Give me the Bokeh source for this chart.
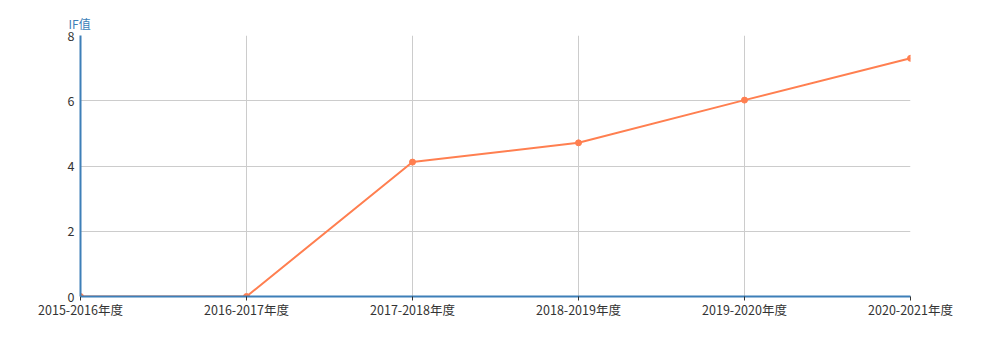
from bokeh.plotting import figure
from bokeh.models import Range1d, FixedTicker, ColumnDataSource
from bokeh.embed import file_html
from bokeh.resources import INLINE

categories = ["2015-2016年度", "2016-2017年度", "2017-2018年度", "2018-2019年度", "2019-2020年度", "2020-2021年度"]
if_values = [0, 0, 4.12, 4.71, 6.02, 7.3]
y_ticks = [0, 2, 4, 6, 8]

FONT = "Noto Sans CJK SC"
AXIS_BLUE = "#3d7fb8"
LINE = "#ff7f50"

xs = list(range(len(categories)))
src = ColumnDataSource(dict(x=xs, y=if_values))

p = figure(width=989, height=354, output_backend="svg", toolbar_location=None,
           x_range=Range1d(0, len(categories) - 1), y_range=Range1d(0, 8))
p.min_border_left = 80
p.min_border_right = 79
p.min_border_top = 35
p.min_border_bottom = 58
p.outline_line_color = None
p.background_fill_color = "white"
p.border_fill_color = "white"

p.title.text = "IF值"
p.title.text_font = FONT
p.title.text_font_size = "12px"
p.title.text_font_style = "normal"
p.title.text_color = AXIS_BLUE
p.title.align = "left"
p.title.offset = -12
p.title.standoff = 8

p.line("x", "y", source=src, line_color=LINE, line_width=2)
p.scatter("x", "y", source=src, size=6, fill_color=LINE, line_color=LINE)

xa = p.xaxis[0]
xa.ticker = FixedTicker(ticks=xs)
xa.major_label_overrides = {i: c for i, c in enumerate(categories)}
xa.axis_line_color = AXIS_BLUE
xa.axis_line_width = 2
xa.major_tick_in = 0
xa.major_tick_out = 4
xa.major_tick_line_color = "#333333"
xa.minor_tick_line_color = None
xa.major_label_text_font = FONT
xa.major_label_text_font_size = "12.5px"
xa.major_label_text_color = "#333333"
xa.major_label_standoff = -1

ya = p.yaxis[0]
ya.ticker = FixedTicker(ticks=y_ticks)
ya.axis_line_color = AXIS_BLUE
ya.axis_line_width = 2
ya.major_tick_in = 0
ya.major_tick_out = 0
ya.minor_tick_line_color = None
ya.major_label_text_font = FONT
ya.major_label_text_font_size = "12.5px"
ya.major_label_text_color = "#333333"
ya.major_label_standoff = 6

p.xgrid.grid_line_color = "#cccccc"
p.ygrid.grid_line_color = "#cccccc"
p.xgrid.ticker = FixedTicker(ticks=xs)
p.ygrid.ticker = FixedTicker(ticks=y_ticks)

open("out.html", "w").write(file_html(p, INLINE))
